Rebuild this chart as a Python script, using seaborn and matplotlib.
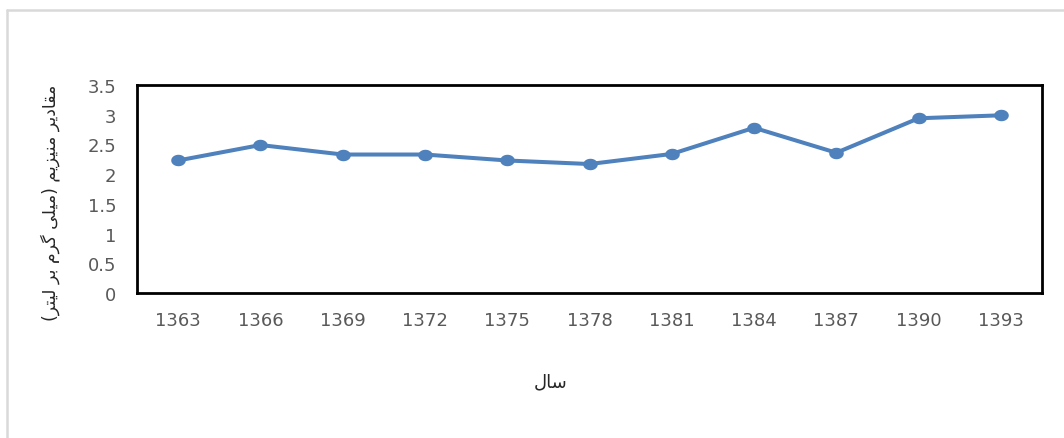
import numpy as np
import pandas as pd
import matplotlib.pyplot as plt
import seaborn as sns
from matplotlib.path import Path
from matplotlib.lines import Line2D

# Data
years = ['1363', '1366', '1369', '1372', '1375', '1378', '1381', '1384', '1387', '1390', '1393']
magnesium = [2.23, 2.49, 2.33, 2.33, 2.23, 2.17, 2.34, 2.78, 2.36, 2.94, 2.99]
y_ticks = [0, 0.5, 1, 1.5, 2, 2.5, 3, 3.5]
y_tick_labels = ['0', '0.5', '1', '1.5', '2', '2.5', '3', '3.5']
y_label = 'مقادیر منیزیم (میلی گرم بر لیتر)'
x_label = 'سال'

# matplotlib has no Arabic shaping, so join letters with presentation forms
FORMS = {
    'ا': ('\uFE8D', '\uFE8E', None, None),
    'د': ('\uFEA9', '\uFEAA', None, None),
    'ر': ('\uFEAD', '\uFEAE', None, None),
    'ز': ('\uFEAF', '\uFEB0', None, None),
    'م': ('\uFEE1', '\uFEE2', '\uFEE3', '\uFEE4'),
    'ق': ('\uFED5', '\uFED6', '\uFED7', '\uFED8'),
    'ی': ('\uFBFC', '\uFBFD', '\uFBFE', '\uFBFF'),
    'ن': ('\uFEE5', '\uFEE6', '\uFEE7', '\uFEE8'),
    'ل': ('\uFEDD', '\uFEDE', '\uFEDF', '\uFEE0'),
    'گ': ('\uFB92', '\uFB93', '\uFB94', '\uFB95'),
    'ب': ('\uFE8F', '\uFE90', '\uFE91', '\uFE92'),
    'ت': ('\uFE95', '\uFE96', '\uFE97', '\uFE98'),
    'س': ('\uFEB1', '\uFEB2', '\uFEB3', '\uFEB4'),
}


def rtl(text):
    out = []
    for i, ch in enumerate(text):
        if ch not in FORMS:
            out.append(ch)
            continue
        prev = text[i - 1] if i > 0 else ''
        nxt = text[i + 1] if i + 1 < len(text) else ''
        join_prev = prev in FORMS and FORMS[prev][2] is not None
        join_next = FORMS[ch][2] is not None and nxt in FORMS
        iso, fin, ini, med = FORMS[ch]
        if join_prev and join_next:
            out.append(med)
        elif join_prev:
            out.append(fin)
        elif join_next:
            out.append(ini)
        else:
            out.append(iso)
    vis = ''.join(reversed(out))
    return vis.translate(str.maketrans({'(': ')', ')': '('}))


sns.set_style('white')
plt.rcParams['font.family'] = ['DejaVu Sans']

W, H = 1064, 439
fig = plt.figure(figsize=(W / 100, H / 100), dpi=100)
ax = fig.add_axes([137 / W, 1 - 294 / H, (1042 - 137) / W, (294 - 86) / H])

# slightly wide ellipse marker like the stretched original
t = np.linspace(0, 2 * np.pi, 40)
ellipse = Path(np.column_stack([1.27 * np.cos(t), np.sin(t)]), closed=True)

df = pd.DataFrame({'year': years, 'value': magnesium})
sns.lineplot(data=df, x='year', y='value', sort=False, ax=ax, color='#4F81BD',
             linewidth=2.9, marker=ellipse, markersize=10.5, markeredgewidth=0)

ax.set_xlim(-0.5, len(years) - 0.5)
ax.set_ylim(0, 3.5)
ax.set_yticks(y_ticks)
ax.set_yticklabels(y_tick_labels)
ax.tick_params(axis='both', length=0, labelsize=13, labelcolor='#595959')
ax.tick_params(axis='x', pad=13)
ax.tick_params(axis='y', pad=15)
ax.set_xlabel('')
ax.set_ylabel('')
ax.grid(False)
for s in ax.spines.values():
    s.set_visible(True)
    s.set_color('black')
    s.set_linewidth(2)

fig.text(50 / W, 1 - 203 / H, rtl(y_label), rotation=90, ha='center', va='center',
         fontsize=12.5, color='#262626')
fig.text(551 / W, 1 - 382 / H, rtl(x_label), ha='center', va='center',
         fontsize=13, color='#262626')

# light chart-area border (left and top only visible)
fig.add_artist(Line2D([7 / W, 7 / W], [0, 1 - 11 / H], transform=fig.transFigure,
                      color='#d9d9d9', linewidth=1.8))
fig.add_artist(Line2D([7 / W, 1], [1 - 11 / H, 1 - 11 / H], transform=fig.transFigure,
                      color='#d9d9d9', linewidth=1.8))

fig.savefig('out.png', dpi=100)
plt.close()
